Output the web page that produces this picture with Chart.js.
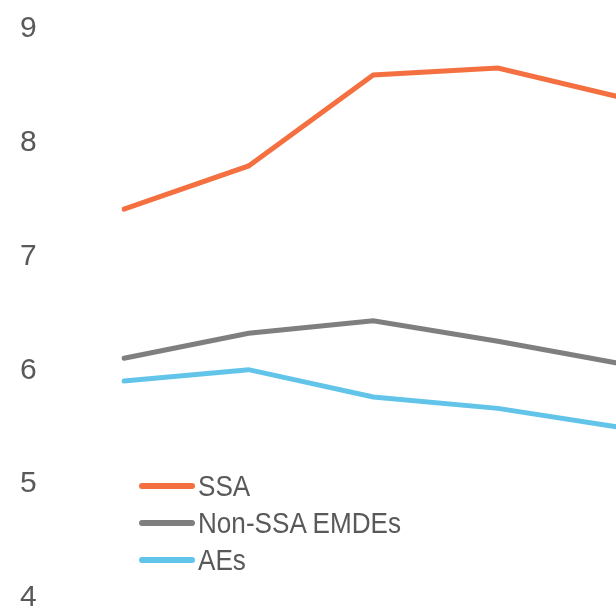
<!DOCTYPE html>
<html><head><meta charset="utf-8">
<script src="https://cdn.jsdelivr.net/npm/chart.js@4/dist/chart.umd.min.js"></script>
<style>
html,body{margin:0;padding:0;overflow:hidden;background:#fff;width:616px;height:606px;}
#wrap{position:absolute;left:0;top:0;width:640px;height:606px;}
#legend{position:absolute;left:139px;top:0;font-family:"Liberation Sans",Arial,sans-serif;font-size:29px;color:#595959;}
.row{position:absolute;left:0;white-space:nowrap;height:37px;display:flex;align-items:center;}
.sw{width:56px;height:6px;border-radius:3px;margin-right:3px;flex:none;}
.tx{display:inline-block;transform:scaleX(0.9);transform-origin:0 50%;}
</style></head><body>
<div id="wrap"><canvas id="c"></canvas></div>
<div id="legend"></div>
<script>
const categories = ['2016', '2017', '2018', '2019', '2020'];
const seriesNames = ['SSA', 'Non-SSA EMDEs', 'AEs'];
const ssa = [7.39, 7.77, 8.57, 8.63, 8.37];
const nonSsaEmdes = [6.08, 6.30, 6.41, 6.23, 6.03];
const aes = [5.88, 5.98, 5.74, 5.64, 5.47];
const yTicks = [4, 5, 6, 7, 8, 9];
const colors = ['#F47040', '#7F7F7F', '#63C4EA'];

const values = [ssa, nonSsaEmdes, aes];
const datasets = seriesNames.map((n, i) => ({
  label: n, data: values[i], borderColor: colors[i], backgroundColor: colors[i],
  borderWidth: 5, pointRadius: 0, tension: 0, borderCapStyle: 'round', fill: false
}));

new Chart(document.getElementById('c'), {
  type: 'line',
  data: { labels: categories, datasets },
  options: {
    responsive: true, maintainAspectRatio: false, animation: false,
    layout: { padding: { left: 20, right: 17.5, top: 26, bottom: 11 } },
    plugins: { legend: { display: false }, tooltip: { enabled: false } },
    scales: {
      x: { display: false, offset: false },
      y: {
        min: yTicks[0], max: yTicks[yTicks.length - 1],
        grid: { display: false }, border: { display: false },
        afterBuildTicks: s => { s.ticks = yTicks.map(v => ({ value: v })); },
        afterFit: s => { s.width = 104; },
        ticks: { color: '#595959', crossAlign: 'far', padding: 0, labelOffset: 3,
          font: { family: '"Liberation Sans", Arial, sans-serif', size: 30, lineHeight: 0.5 } }
      }
    }
  }
});

const lg = document.getElementById('legend');
seriesNames.forEach((n, i) => {
  const r = document.createElement('div');
  r.className = 'row';
  r.style.top = (467.5 + i * 37) + 'px';
  const sw = document.createElement('span');
  sw.className = 'sw'; sw.style.background = colors[i];
  const t = document.createElement('span'); t.className = 'tx'; t.textContent = n;
  r.appendChild(sw); r.appendChild(t); lg.appendChild(r);
});
</script>
</body></html>
